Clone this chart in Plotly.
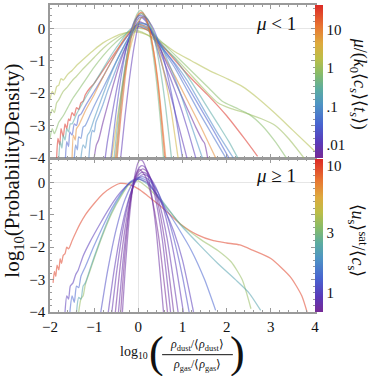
import math
import plotly.graph_objects as go
from plotly.colors import sample_colorscale

# ---- data ----
# top panel (mu < 1): one entry per curve, colour value mu/(k0 <cs> <ts>)
top_mu = [1.5, 1.0, 0.7, 40, 0.25, 0.08, 0.03, 0.05, 8, 0.006,
          0.012, 0.01, 3, 0.5, 20, 12, 0.3, 0.02, 0.12]
top_x = [
    [-2.0, -1.95, -1.9, -1.85, -1.8, -1.75, -1.7, -1.6, -1.5, -1.4, -1.2, -1.0, -0.8, -0.6, -0.4, -0.2, 0.0, 0.2, 0.4, 0.6, 0.84, 1.2, 1.6, 2.0, 2.36, 2.7, 3.1, 3.5, 4.0],
    [-2.0, -1.95, -1.9, -1.85, -1.8, -1.7, -1.6, -1.5, -1.4, -1.25, -1.0, -0.8, -0.6, -0.4, -0.2, 0.0, 0.2, 0.4, 0.6, 0.84, 1.1, 1.4, 1.8, 2.1, 2.4, 2.8, 3.1, 3.4, 3.75],
    [-2.0, -1.95, -1.9, -1.8, -1.7, -1.6, -1.5, -1.35, -1.2, -1.0, -0.8, -0.6, -0.4, -0.2, 0.0, 0.2, 0.4, 0.7, 1.0, 1.3, 1.6, 1.9, 2.2, 2.5, 2.8, 3.1, 3.35],
    [-1.85, -1.82, -1.78, -1.75, -1.7, -1.66, -1.62, -1.58, -1.55, -1.5, -1.45, -1.4, -1.35, -1.3, -1.25, -1.2, -1.1, -1.0, -0.8, -0.6, -0.4, -0.2, 0.0, 0.2, 0.4, 0.6, 0.84, 1.2, 1.6, 2.0, 2.4, 2.7],
    [-1.8, -1.77, -1.73, -1.7, -1.66, -1.62, -1.58, -1.54, -1.5, -1.4, -1.3, -1.2, -1.0, -0.8, -0.6, -0.4, -0.2, 0.0, 0.2, 0.4, 0.6, 0.84, 1.2, 1.5, 1.8, 2.05, 2.25],
    [-1.12, -1.08, -1.04, -1.0, -0.96, -0.9, -0.8, -0.7, -0.6, -0.5, -0.4, -0.2, 0.0, 0.2, 0.4, 0.6, 0.84, 1.1, 1.5, 1.8, 2.15],
    [-1.65, -1.62, -1.58, -1.55, -1.5, -1.45, -1.4, -1.35, -1.3, -1.2, -1.0, -0.8, -0.6, -0.4, -0.2, 0.0, 0.2, 0.4, 0.6, 0.84, 1.1, 1.4, 1.7, 2.05],
    [-1.45, -1.42, -1.38, -1.35, -1.3, -1.25, -1.2, -1.1, -1.0, -0.8, -0.6, -0.4, -0.2, 0.0, 0.2, 0.4, 0.6, 0.84, 1.1, 1.4, 1.7, 1.98],
    [-1.5, -1.47, -1.43, -1.4, -1.35, -1.3, -1.2, -1.0, -0.8, -0.6, -0.4, -0.2, 0.0, 0.2, 0.4, 0.6, 0.84, 1.1, 1.4, 1.75],
    [-1.0, -0.95, -0.9, -0.8, -0.6, -0.4, -0.2, 0.0, 0.2, 0.4, 0.6, 0.85, 1.1, 1.3, 1.45, 1.5, 1.57],
    [-0.75, -0.7, -0.6, -0.5, -0.4, -0.3, -0.2, -0.1, 0.0, 0.05, 0.15, 0.3, 0.5, 0.7, 0.9, 1.1, 1.3],
    [-0.4, -0.3, -0.2, -0.1, 0.0, 0.05, 0.1, 0.2, 0.35, 0.5, 0.7, 0.9, 1.1],
    [-0.6, -0.5, -0.4, -0.3, -0.2, -0.1, 0.0, 0.1, 0.2, 0.3, 0.45, 0.6, 0.75, 0.9],
    [-0.5, -0.4, -0.3, -0.2, -0.1, 0.0, 0.05, 0.1, 0.2, 0.3, 0.4, 0.5, 0.57],
    [-0.48, -0.4, -0.3, -0.2, -0.1, 0.0, 0.07, 0.15, 0.25, 0.35, 0.45, 0.6],
    [-0.52, -0.4, -0.3, -0.2, -0.1, 0.0, 0.06, 0.15, 0.25, 0.35, 0.45, 0.62],
    [-0.55, -0.45, -0.35, -0.25, -0.1, 0.0, 0.08, 0.2, 0.3, 0.4, 0.5, 0.6, 0.75],
    [-0.62, -0.5, -0.4, -0.3, -0.2, -0.1, 0.0, 0.05, 0.15, 0.3, 0.45, 0.6, 0.8, 1.0],
    [-1.3, -1.25, -1.2, -1.15, -1.1, -1.0, -0.8, -0.6, -0.4, -0.2, 0.0, 0.2, 0.4, 0.6, 0.8, 1.0, 1.2, 1.45],
]
top_y = [
    [-2.2, -1.95, -2.05, -1.8, -1.75, -1.55, -1.6, -1.42, -1.3, -1.15, -0.9, -0.66, -0.45, -0.3, -0.18, -0.12, -0.12, -0.2, -0.33, -0.5, -0.73, -1.0, -1.3, -1.55, -1.8, -2.15, -2.63, -3.15, -3.8],
    [-2.7, -2.5, -2.6, -2.3, -2.2, -1.95, -1.8, -1.62, -1.48, -1.25, -0.9, -0.62, -0.4, -0.22, -0.1, -0.08, -0.2, -0.4, -0.62, -0.92, -1.3, -1.75, -2.3, -2.48, -2.6, -2.8, -3.0, -3.4, -4.0],
    [-3.4, -3.1, -3.25, -2.9, -2.7, -2.45, -2.2, -1.9, -1.6, -1.2, -0.85, -0.55, -0.3, -0.1, 0.0, -0.05, -0.25, -0.65, -1.05, -1.45, -1.85, -2.25, -2.45, -2.65, -3.0, -3.5, -4.0],
    [-4.0, -3.4, -3.6, -3.1, -3.35, -2.95, -3.1, -2.8, -2.85, -2.6, -2.7, -2.45, -2.5, -2.3, -2.25, -2.05, -1.85, -1.7, -1.3, -0.9, -0.5, -0.15, 0.05, -0.05, -0.3, -0.62, -1.0, -1.55, -2.1, -2.7, -3.4, -3.95],
    [-4.0, -3.5, -3.7, -3.3, -3.45, -3.1, -3.2, -2.95, -2.95, -2.65, -2.4, -2.15, -1.7, -1.25, -0.8, -0.4, -0.05, 0.1, 0.0, -0.3, -0.6, -0.95, -1.65, -2.3, -2.95, -3.5, -4.0],
    [-4.0, -3.4, -3.15, -3.2, -2.9, -2.7, -2.35, -1.95, -1.6, -1.25, -0.9, -0.35, 0.05, 0.0, -0.35, -0.7, -1.1, -1.6, -2.55, -3.25, -4.0],
    [-4.0, -3.5, -3.65, -3.2, -3.3, -2.95, -3.0, -2.7, -2.65, -2.4, -1.95, -1.5, -1.0, -0.55, -0.15, 0.12, 0.05, -0.3, -0.7, -1.15, -1.75, -2.45, -3.15, -4.0],
    [-4.0, -3.6, -3.75, -3.35, -3.4, -3.05, -3.0, -2.7, -2.4, -1.85, -1.3, -0.75, -0.25, 0.15, 0.1, -0.3, -0.75, -1.25, -1.9, -2.65, -3.35, -4.0],
    [-4.0, -3.3, -3.45, -3.1, -3.0, -2.85, -2.55, -2.05, -1.5, -1.0, -0.5, -0.1, 0.12, 0.02, -0.4, -0.9, -1.5, -2.2, -3.0, -4.0],
    [-4.0, -3.6, -3.45, -2.9, -1.9, -1.0, -0.3, 0.2, 0.1, -0.35, -0.95, -1.7, -2.45, -3.05, -3.45, -3.55, -4.0],
    [-4.0, -3.5, -2.7, -1.95, -1.3, -0.75, -0.3, 0.05, 0.3, 0.35, 0.25, -0.1, -0.75, -1.45, -2.2, -3.05, -4.0],
    [-4.0, -2.7, -1.55, -0.6, 0.1, 0.3, 0.35, 0.2, -0.3, -0.95, -1.9, -2.95, -4.0],
    [-4.0, -3.0, -2.1, -1.35, -0.7, -0.2, 0.2, 0.35, 0.3, 0.05, -0.6, -1.5, -2.6, -4.0],
    [-4.0, -2.5, -1.3, -0.4, 0.2, 0.5, 0.55, 0.5, 0.17, -0.5, -1.5, -2.85, -4.0],
    [-4.0, -2.8, -1.55, -0.6, 0.07, 0.43, 0.5, 0.4, -0.02, -0.75, -1.8, -4.0],
    [-4.0, -2.35, -1.25, -0.43, 0.13, 0.42, 0.47, 0.35, -0.04, -0.73, -1.7, -4.0],
    [-4.0, -2.7, -1.6, -0.77, 0.09, 0.38, 0.45, 0.31, -0.03, -0.56, -1.3, -2.23, -4.0],
    [-4.0, -2.56, -1.58, -0.8, -0.21, 0.18, 0.38, 0.4, 0.35, 0.09, -0.38, -1.08, -2.36, -4.0],
    [-4.0, -3.6, -3.7, -3.3, -3.2, -2.8, -2.05, -1.35, -0.75, -0.25, 0.15, 0.12, -0.25, -0.8, -1.45, -2.2, -3.0, -4.0],
]

# bottom panel (mu >= 1): colour value <u_s>^sat / <c_s>
bot_u = [10, 3.5, 2.2, 1.3, 0.95, 0.78, 0.82, 0.75, 0.85, 0.9, 1.1, 0.72]
bot_x = [
    [-1.93, -1.9, -1.87, -1.84, -1.8, -1.77, -1.74, -1.7, -1.66, -1.62, -1.58, -1.5, -1.4, -1.32, -1.2, -1.0, -0.8, -0.6, -0.41, -0.2, 0.0, 0.2, 0.5, 0.95, 1.34, 1.7, 2.0, 2.3, 2.6, 3.0, 3.45, 3.7, 3.82],
    [-1.35, -1.3, -1.25, -1.2, -1.1, -1.0, -0.8, -0.6, -0.4, -0.2, 0.0, 0.2, 0.5, 0.95, 1.4, 1.8, 2.1, 2.35, 2.55],
    [-1.4, -1.35, -1.3, -1.25, -1.2, -1.1, -1.0, -0.8, -0.6, -0.4, -0.2, 0.0, 0.2, 0.5, 0.95, 1.4, 1.8, 2.2, 2.5, 2.77],
    [-1.55, -1.5, -1.45, -1.4, -1.35, -1.3, -1.2, -1.0, -0.8, -0.6, -0.4, -0.2, 0.0, 0.2, 0.5, 0.9, 1.2, 1.5, 1.75],
    [-1.66, -1.62, -1.58, -1.54, -1.48, -1.42, -1.36, -1.25, -1.1, -0.86, -0.66, -0.48, -0.3, -0.15, 0.0, 0.2, 0.4, 0.6, 0.8, 1.0, 1.25],
    [-0.36, -0.3, -0.2, -0.1, 0.0, 0.05, 0.1, 0.2, 0.3, 0.4, 0.57],
    [-0.45, -0.35, -0.25, -0.15, -0.05, 0.02, 0.08, 0.15, 0.25, 0.35, 0.45, 0.55, 0.73],
    [-0.52, -0.4, -0.3, -0.2, -0.1, 0.0, 0.1, 0.2, 0.3, 0.4, 0.5, 0.6, 0.8],
    [-0.6, -0.5, -0.4, -0.3, -0.2, -0.1, 0.0, 0.1, 0.2, 0.35, 0.5, 0.65, 0.9],
    [-0.68, -0.55, -0.4, -0.25, -0.1, 0.0, 0.12, 0.25, 0.4, 0.55, 0.7, 0.85, 1.02],
    [-0.85, -0.7, -0.5, -0.3, -0.1, 0.08, 0.25, 0.45, 0.65, 0.85, 1.0, 1.15],
    [-0.4, -0.3, -0.2, -0.1, 0.02, 0.15, 0.3, 0.45, 0.66],
]
bot_y = [
    [-3.1, -2.75, -2.9, -2.55, -2.7, -2.35, -2.5, -2.25, -2.2, -2.0, -2.05, -1.8, -1.5, -1.28, -1.0, -0.65, -0.35, -0.15, -0.03, -0.07, -0.2, -0.4, -0.73, -1.28, -1.62, -1.8, -1.87, -1.93, -2.1, -2.35, -2.93, -3.5, -4.0],
    [-4.0, -3.6, -3.5, -3.15, -2.75, -2.35, -1.6, -0.95, -0.45, -0.05, 0.05, -0.15, -0.55, -1.28, -1.75, -2.1, -2.45, -3.0, -3.9],
    [-4.0, -3.55, -3.6, -3.2, -3.1, -2.7, -2.3, -1.55, -0.9, -0.4, -0.02, 0.1, -0.05, -0.5, -1.3, -1.95, -2.5, -3.0, -3.4, -3.95],
    [-4.0, -3.5, -3.7, -3.2, -3.25, -2.9, -2.6, -1.95, -1.35, -0.8, -0.35, 0.0, 0.15, 0.05, -0.55, -1.4, -2.1, -3.0, -3.95],
    [-4.0, -3.5, -3.6, -3.2, -3.1, -2.85, -2.7, -2.27, -1.85, -1.26, -0.8, -0.43, -0.15, 0.02, 0.1, 0.0, -0.35, -0.85, -1.5, -2.4, -4.0],
    [-4.0, -2.73, -1.05, 0.07, 0.63, 0.7, 0.66, 0.31, -0.39, -1.43, -4.0],
    [-4.0, -2.46, -1.23, -0.33, 0.25, 0.46, 0.52, 0.47, 0.21, -0.26, -0.94, -1.84, -4.0],
    [-4.0, -2.46, -1.42, -0.62, -0.04, 0.31, 0.42, 0.33, 0.06, -0.39, -1.02, -1.83, -4.0],
    [-4.0, -2.85, -1.88, -1.09, -0.47, -0.03, 0.23, 0.32, 0.25, -0.1, -0.76, -1.72, -4.0],
    [-4.0, -2.73, -1.55, -0.66, -0.07, 0.15, 0.25, 0.16, -0.16, -0.72, -1.52, -2.55, -4.0],
    [-4.0, -2.76, -1.44, -0.52, 0.02, 0.18, 0.07, -0.32, -1.01, -1.98, -2.91, -4.0],
    [-4.0, -2.16, -0.81, 0.04, 0.4, 0.22, -0.44, -1.58, -4.0],
]

top_cb_ticks = [0.01, 0.1, 1, 10]
top_cb_text = [".01", ".1", "1", "10"]
bot_cb_ticks = [1, 3, 10]
bot_cb_text = ["1", "3", "10"]

# colour bar ranges (log10)
TOP_LO, TOP_HI = -2.34, 1.65
BOT_LO, BOT_HI = -0.15, 1.055

RAINBOW = [
    [0.0, "rgb(118,42,150)"],
    [0.1, "rgb(90,58,185)"],
    [0.22, "rgb(72,100,208)"],
    [0.35, "rgb(78,148,196)"],
    [0.45, "rgb(92,172,160)"],
    [0.55, "rgb(135,187,105)"],
    [0.65, "rgb(188,190,72)"],
    [0.75, "rgb(222,170,62)"],
    [0.86, "rgb(232,118,50)"],
    [1.0, "rgb(220,42,38)"],
]
FONT = "Liberation Serif"
FRAME = "#9a9a9a"


def rgba(val, lo, hi, alpha=0.55):
    t = (math.log10(val) - lo) / (hi - lo)
    t = min(max(t, 0), 1)
    c = sample_colorscale(RAINBOW, [t])[0]
    return c.replace("rgb(", "rgba(").replace(")", ", %.2f)" % alpha)


fig = go.Figure()

for mu, xs, ys in zip(top_mu, top_x, top_y):
    fig.add_trace(go.Scatter(x=xs, y=ys, mode="lines", xaxis="x2", yaxis="y2",
                             line=dict(color=rgba(mu, TOP_LO, TOP_HI), width=1.3,
                                       shape="spline", smoothing=0.6),
                             showlegend=False, hoverinfo="skip"))

for u, xs, ys in zip(bot_u, bot_x, bot_y):
    fig.add_trace(go.Scatter(x=xs, y=ys, mode="lines", xaxis="x", yaxis="y",
                             line=dict(color=rgba(u, BOT_LO, BOT_HI), width=1.3,
                                       shape="spline", smoothing=0.6),
                             showlegend=False, hoverinfo="skip"))

TOP_DOM = [0.502, 1.0]
BOT_DOM = [0.0, 0.498]

# colour bars via dummy traces
fig.add_trace(go.Scatter(
    x=[None], y=[None], xaxis="x2", yaxis="y2", mode="markers", showlegend=False,
    marker=dict(color=[TOP_LO], cmin=TOP_LO, cmax=TOP_HI, colorscale=RAINBOW, showscale=True,
                colorbar=dict(x=1.0, xanchor="left", xpad=0, y=sum(TOP_DOM) / 2, yanchor="middle",
                              len=TOP_DOM[1] - TOP_DOM[0], ypad=0, thickness=8, outlinewidth=0,
                              tickvals=[math.log10(v) for v in top_cb_ticks], ticktext=top_cb_text,
                              ticks="",
                              tickfont=dict(family=FONT, size=15, color="#111")))))
fig.add_trace(go.Scatter(
    x=[None], y=[None], xaxis="x", yaxis="y", mode="markers", showlegend=False,
    marker=dict(color=[BOT_LO], cmin=BOT_LO, cmax=BOT_HI, colorscale=RAINBOW, showscale=True,
                colorbar=dict(x=1.0, xanchor="left", xpad=0, y=sum(BOT_DOM) / 2, yanchor="middle",
                              len=BOT_DOM[1] - BOT_DOM[0], ypad=0, thickness=8, outlinewidth=0,
                              tickvals=[math.log10(v) for v in bot_cb_ticks], ticktext=bot_cb_text,
                              ticks="",
                              tickfont=dict(family=FONT, size=15, color="#111")))))

axis_common = dict(showline=True, mirror="allticks", linecolor=FRAME, linewidth=1.5,
                   ticks="inside", ticklen=4, tickcolor=FRAME, showgrid=False,
                   zeroline=True, zerolinecolor="#e6e6e6", zerolinewidth=1,
                   tickfont=dict(family=FONT, size=15, color="#111"))

fig.update_layout(
    width=374, height=376,
    margin=dict(l=50, r=59, t=3, b=64),
    plot_bgcolor="white", paper_bgcolor="white",
    font=dict(family=FONT, color="#111"),
    xaxis=dict(axis_common, domain=[0, 1], anchor="y", range=[-2, 4], dtick=1,
               minor=dict(dtick=0.2, ticks="inside", ticklen=2, tickcolor=FRAME)),
    yaxis=dict(axis_common, domain=BOT_DOM, anchor="x", range=[-4, 0.72], dtick=1,
               minor=dict(dtick=0.2, ticks="inside", ticklen=2, tickcolor=FRAME)),
    xaxis2=dict(axis_common, domain=[0, 1], anchor="y2", range=[-2, 4], dtick=1,
                matches="x", showticklabels=False,
                minor=dict(dtick=0.2, ticks="inside", ticklen=2, tickcolor=FRAME)),
    yaxis2=dict(axis_common, domain=TOP_DOM, anchor="x2", range=[-4, 0.72], dtick=1,
                minor=dict(dtick=0.2, ticks="inside", ticklen=2, tickcolor=FRAME)),
)

ann = [
    dict(text="<i>μ</i> < 1", x=0.853, y=0.939, size=19),
    dict(text="<i>μ</i> ≥ 1", x=0.853, y=0.443, size=19),
    dict(text="log<sub>10</sub>(ProbabilityDensity)", x=-0.14, y=0.46, size=21, angle=-90),
    dict(text="<i>μ</i>/(<i>k</i><sub>0</sub>⟨<i>c</i><sub><i>s</i></sub>⟩⟨<i>t</i><sub><i>s</i></sub>⟩)",
         x=1.162, y=0.744, size=18, angle=90),
    dict(text="⟨<i>u</i><sub>s</sub>⟩<sup>sat</sup>/⟨<i>c</i><sub>s</sub>⟩",
         x=1.162, y=0.233, size=18, angle=90),
    dict(text="log<sub>10</sub>", x=0.317, y=-0.133, size=14),
    dict(text="(", x=0.4, y=-0.133, size=44),
    dict(text=")", x=0.709, y=-0.133, size=44),
    dict(text="<i>ρ</i><sub>dust</sub>/⟨<i>ρ</i><sub>dust</sub>⟩", x=0.555, y=-0.107, size=12),
    dict(text="<i>ρ</i><sub>gas</sub>/⟨<i>ρ</i><sub>gas</sub>⟩", x=0.555, y=-0.172, size=12),
]
for a in ann:
    fig.add_annotation(text=a["text"], x=a["x"], y=a["y"], xref="paper", yref="paper",
                       xanchor="center", yanchor="middle", showarrow=False,
                       textangle=a.get("angle", 0),
                       font=dict(family=FONT, size=a["size"], color="#111"))

# fraction bar of the x-axis title
fig.add_shape(type="line", xref="paper", yref="paper", x0=0.423, x1=0.69, y0=-0.139, y1=-0.139,
              line=dict(color="#111", width=1))

# drop the browser's default page margin so the figure sits at the window corner
fig.write_html("out.html", config={"displayModeBar": False},
               post_script="document.body.style.margin='0';")
